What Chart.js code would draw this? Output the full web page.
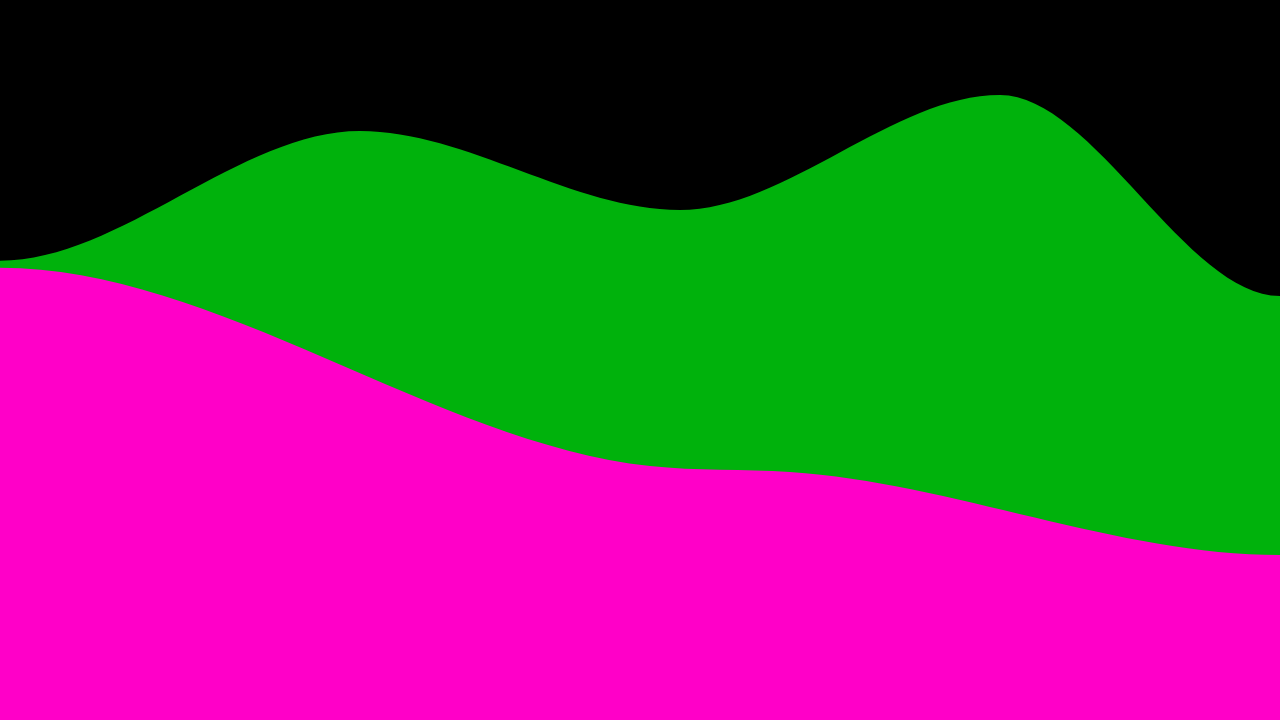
<!DOCTYPE html>
<html>
<head>
<meta charset="utf-8">
<script src="https://cdn.jsdelivr.net/npm/chart.js@4"></script>
<style>
  html, body { margin: 0; padding: 0; background: #000; overflow: hidden; }
  #wrap { width: 1280px; height: 720px; position: relative; }
</style>
</head>
<body>
<div id="wrap"><canvas id="c"></canvas></div>
<script>
// Back layer (green): x positions and values
const greenX = [-100, 0, 360, 680, 1000, 1280, 1380];
const greenY = [459.3, 459.3, 589, 510, 625, 424, 424];
// Front layer (pink)
const pinkX = [-100, 0, 650, 790, 1280, 1380];
const pinkY = [452.3, 452.3, 254, 248, 165, 165];

const xMin = 0, xMax = 1280, yMin = 0, yMax = 720;

const toPts = (xs, ys) => xs.map((x, i) => ({ x: x, y: ys[i] }));

new Chart(document.getElementById('c'), {
  type: 'line',
  data: {
    datasets: [
      {
        label: 'Pink',
        data: toPts(pinkX, pinkY),
        backgroundColor: '#ff00c8',
        borderWidth: 0,
        pointRadius: 0,
        fill: 'origin',
        cubicInterpolationMode: 'monotone',
        order: 0
      },
      {
        label: 'Green',
        data: toPts(greenX, greenY),
        backgroundColor: '#00b20c',
        borderWidth: 0,
        pointRadius: 0,
        fill: 'origin',
        cubicInterpolationMode: 'monotone',
        order: 1
      }
    ]
  },
  options: {
    responsive: true,
    maintainAspectRatio: false,
    animation: false,
    layout: { padding: 0 },
    plugins: { legend: { display: false }, tooltip: { enabled: false } },
    scales: {
      x: { type: 'linear', min: xMin, max: xMax, display: false },
      y: { type: 'linear', min: yMin, max: yMax, display: false }
    }
  }
});
</script>
</body>
</html>
